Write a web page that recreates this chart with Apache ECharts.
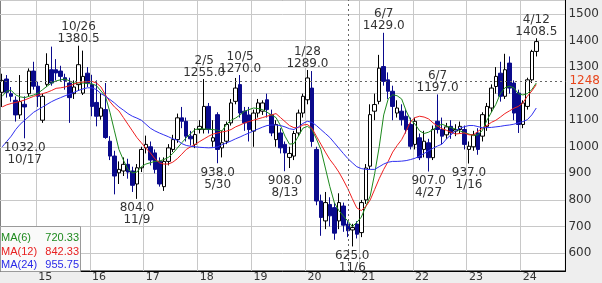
<!DOCTYPE html>
<html><head><meta charset="utf-8">
<script src="https://cdn.jsdelivr.net/npm/echarts@6/dist/echarts.min.js"></script>
<style>html,body{margin:0;padding:0;background:#eeeeee}#c{width:602px;height:283px}</style>
</head><body><div id="c"></div>
<script>
// monthly categories May 2014 .. Oct 2024
const categories = [];
for (let y = 2014; y <= 2024; y++) for (let m = 1; m <= 12; m++) {
  if ((y === 2014 && m < 5) || (y === 2024 && m > 10)) continue;
  categories.push(y + '-' + String(m).padStart(2, '0'));
}
const opens = [1205,1255,1200,1175,1120,1160,1200,1285,1228,1100,1235,1290,1290,1285,1260,1240,1200,1234,1202,1277,
1234,1167,1115,1140,1021,965,902,909,934,909,860,921,996,1000,977,945,850,945,990,1027,
1109,1096,1040,1009,1065,1065,1152,1021,1121,996,1021,1090,1171,1234,1134,1120,1059,1127,1134,1177,
1121,1027,1052,1009,960,965,1052,1127,1177,1221,990,796,721,783,771,721,777,709,687,709,
677,800,927,1134,1171,1302,1252,1209,1127,1134,1115,1084,1009,1034,990,1015,959,1096,1065,1045,
1077,1059,1065,1065,990,1000,1052,1040,1077,1146,1227,1277,1190,1315,1240,1202,1084,1152,1252,1359];
const closes = [1250,1205,1190,1120,1170,1150,1285,1228,1190,1190,1310,1240,1278,1265,1250,1185,1225,1309,1265,1240,
1152,1115,1146,1035,965,890,915,934,905,855,921,990,1009,950,915,860,945,996,1027,1109,
1096,1040,1030,1046,1077,1152,1065,1034,990,1015,1084,1165,1221,1127,1090,1065,1127,1165,1165,1140,
1052,1084,996,977,975,1050,1127,1190,1259,1020,796,734,790,740,675,790,705,684,696,671,
790,920,1121,1159,1296,1246,1209,1152,1146,1102,1065,1002,1096,959,1021,959,1065,1065,1040,1075,
1052,1065,1077,1009,1002,1045,990,1121,1152,1221,1265,1190,1290,1221,1127,1084,1165,1252,1359,1396];
const lows = [1150,1185,1170,1095,1105,1032,1190,1215,1150,1090,1225,1230,1250,1245,1215,1090,1180,1210,1195,1225,
1115,1077,1102,1030,950,821,860,890,880,830,804,905,975,930,900,850,834,930,980,1015,
1070,1020,1005,995,1050,1050,1050,1000,938,960,1010,1080,1160,1110,1060,1020,1000,1110,1120,1110,
1040,1000,975,908,920,950,1040,1110,1160,1000,780,665,690,700,650,690,680,660,625,655,
660,785,915,1100,1160,1230,1180,1100,1110,1080,1050,990,990,950,960,907,950,1050,1010,1030,
1030,1040,1050,990,937,985,970,1020,1060,1130,1200,1170,1180,1200,1100,1052,1070,1140,1240,1340];
const highs = [1275,1270,1225,1190,1270,1190,1295,1320,1245,1200,1352,1377,1330,1305,1275,1260,1250,1380.5,1362,1300,
1271,1250,1202,1240,1040,985,945,960,955,925,935,1000,1042,1020,990,960,960,1010,1045,1125,
1150,1110,1060,1070,1100,1255,1165,1100,1130,1060,1095,1180,1259,1270,1150,1150,1140,1180,1175,1200,
1140,1100,1070,1020,1000,1060,1140,1200,1289,1285,1000,820,830,810,790,825,790,720,710,720,
800,935,1160,1200,1346,1429,1280,1230,1175,1160,1140,1110,1110,1050,1060,1030,1080,1197,1110,1090,
1100,1085,1095,1080,1020,1060,1070,1130,1165,1235,1300,1320,1350,1340,1250,1215,1175,1260,1365,1408.5];
const ma6 = [1190,1210,1212,1195,1188,1185,1190,1195,1202,1215,1228,1240,1248,1252,1255,1248,1240,1240,1240,1238,
1237,1230,1210,1190,1130,1060,990,950,915,902,905,925,935,940,945,946,952,960,975,995,
1015,1034,1050,1065,1068,1067,1066,1065,1062,1060,1085,1100,1108,1120,1134,1140,1146,1144,1140,1130,
1120,1110,1080,1040,1010,1012,1040,1070,1077,1065,1030,990,920,850,790,760,740,720.33,700,715,
735,775,815,900,1000,1120,1180,1196,1192,1180,1135,1100,1085,1060,1050,1055,1065,1078,1085,1078,
1072,1067,1060,1053,1048,1042,1045,1062,1100,1130,1160,1200,1222,1228,1222,1200,1195,1200,1215,1240];
const ma12 = [1150,1158,1163,1167,1171,1176,1183,1190,1195,1200,1205,1212,1220,1222,1225,1230,1236,1242,1244,1245,
1246,1240,1225,1195,1170,1150,1135,1110,1085,1060,1035,1015,995,977,955,940,935,935,942,955,
972,990,1000,1009,1020,1030,1040,1048,1052,1056,1059,1065,1075,1082,1090,1095,1100,1105,1110,1115,
1120,1125,1110,1095,1080,1072,1072,1082,1084,1070,1040,1010,980,952,930,905,875,842.33,805,770,
760,775,800,840,880,915,945,980,1005,1027,1060,1095,1110,1115,1112,1105,1090,1078,1068,1062,
1055,1048,1050,1052,1045,1045,1058,1070,1080,1092,1100,1112,1125,1135,1145,1152,1165,1190,1210,1234];
const ma24 = [1000,1020,1040,1065,1085,1100,1115,1130,1140,1150,1160,1170,1178,1185,1192,1198,1205,1212,1218,1222,
1222,1215,1200,1190,1178,1165,1150,1138,1125,1115,1108,1100,1085,1070,1060,1052,1045,1038,1030,1025,
1012,1005,1002,1000,998,997,996,997,1000,1008,1015,1022,1030,1037,1045,1052,1060,1067,1074,1080,
1082,1082,1080,1075,1068,1065,1075,1088,1096,1092,1080,1065,1050,1035,1015,995,975,955.75,940,925,
918,915,915,915,925,935,942,945,945,946,948,952,957,965,975,985,995,1003,1010,1030,
1045,1060,1070,1076,1080,1080,1076,1072,1072,1073,1075,1077,1080,1082,1085,1090,1095,1102,1120,1146];
const yTicks = [600,700,800,900,1000,1100,1200,1300,1400,1500];
const lastPrice = 1248;
const crossCat = '2020-10';
const legendItems = [['MA(6)','720.33','#1e8a1e'],['MA(12)','842.33','#e82020'],['MA(24)','955.75','#2a2ae8']];
const extremes = [
  ['2015-10',1380.5,'10/26','high'],['2018-02',1255.0,'2/5','high'],['2018-10',1270.0,'10/5','high'],
  ['2020-01',1289.0,'1/28','high'],['2021-06',1429.0,'6/7','high'],['2022-06',1197.0,'6/7','high'],
  ['2024-04',1408.5,'4/12','high'],
  ['2014-10',1032.0,'10/17','low'],['2016-11',804.0,'11/9','low'],['2018-05',938.0,'5/30','low'],
  ['2019-08',908.0,'8/13','low'],['2020-11',625.0,'11/6','low'],['2022-04',907.0,'4/27','low'],
  ['2023-01',937.0,'1/16','low']
];

const candles = opens.map((o, i) => [o, closes[i], lows[i], highs[i]]);
const FONT = 'DejaVu Sans';
const chart = echarts.init(document.getElementById('c'), null, {renderer: 'canvas'});
const isJan = (idx) => categories[idx] && categories[idx].endsWith('-01');
const maSeries = (name, data, color) => ({
  name, type: 'line', data, symbol: 'none', smooth: false,
  lineStyle: {color, width: 1}, z: 3, silent: true
});
chart.setOption({
  animation: false,
  backgroundColor: '#eeeeee',
  grid: {left: -1, right: 35, top: 0, bottom: 11, show: true, backgroundColor: '#fff', borderColor: '#000', borderWidth: 1},
  xAxis: {
    type: 'category', data: categories, boundaryGap: true,
    axisLine: {show: true, lineStyle: {color: '#000'}},
    axisTick: {show: false},
    axisLabel: {
      interval: (idx) => isJan(idx), formatter: (v) => v.slice(2, 4),
      align: 'left', margin: 1, fontSize: 11, color: '#333', fontFamily: FONT
    },
    splitLine: {show: true, interval: (idx) => isJan(idx), lineStyle: {color: '#c8c8c8', width: 1}}
  },
  yAxis: {
    type: 'value', position: 'right', min: 532.5, max: 1552.5, splitNumber: 10, scale: true,
    axisLine: {show: true, lineStyle: {color: '#000'}},
    axisTick: {show: false},
    axisLabel: {
      margin: 3, fontSize: 12, color: '#333', fontFamily: FONT,
      formatter: (v) => yTicks.includes(v) ? String(v) : ''
    },
    splitLine: {show: true, lineStyle: {color: '#c8c8c8', width: 1}}
  },
  graphic: [
    {type: 'rect', shape: {x: 0.5, y: 226.5, width: 80, height: 45}, style: {fill: '#fafafa', stroke: '#9a9a9a'}, z: 100},
    ...legendItems.flatMap((it, k) => [
      {type: 'text', x: 1, y: 238 + k * 13.5, z: 101, style: {text: it[0], fill: it[2], font: '11px Liberation Sans', textVerticalAlign: 'middle'}},
      {type: 'text', x: 79, y: 238 + k * 13.5, z: 101, style: {text: it[1], fill: it[2], font: '11px Liberation Sans', textAlign: 'right', textVerticalAlign: 'middle'}}
    ])
  ],
  series: [
    {
      type: 'candlestick', data: candles, barWidth: 4,
      itemStyle: {color: '#ffffff', color0: '#0a0a8c', borderColor: '#000', borderColor0: '#0a0a8c', borderWidth: 1},
      z: 2,
      markLine: {
        silent: true, symbol: 'none',
        data: [
          {yAxis: lastPrice, lineStyle: {color: '#666', type: [2, 3], width: 1},
           label: {show: true, position: 'end', formatter: String(lastPrice), color: '#e8461c', fontSize: 12, fontFamily: FONT, distance: 4}},
          {xAxis: crossCat, lineStyle: {color: '#666', type: [2, 3], width: 1}, label: {show: false}}
        ]
      },
      markPoint: {
        silent: true, symbol: 'circle', symbolSize: 1,
        itemStyle: {color: 'rgba(0,0,0,0)'},
        data: extremes.map(e => ({
          coord: [e[0], e[1]],
          label: {
            show: true, position: e[3] === 'high' ? 'top' : 'bottom', distance: e[3] === 'high' ? 0 : 3,
            formatter: e[3] === 'high' ? e[2] + '\n' + e[1].toFixed(1) : e[1].toFixed(1) + '\n' + e[2],
            color: '#333', fontSize: 12, lineHeight: 12, fontFamily: FONT, align: 'center'
          }
        }))
      }
    },
    maSeries('MA6', ma6, '#1e8a1e'),
    maSeries('MA12', ma12, '#f02020'),
    maSeries('MA24', ma24, '#3030f0')
  ]
});
</script></body></html>
